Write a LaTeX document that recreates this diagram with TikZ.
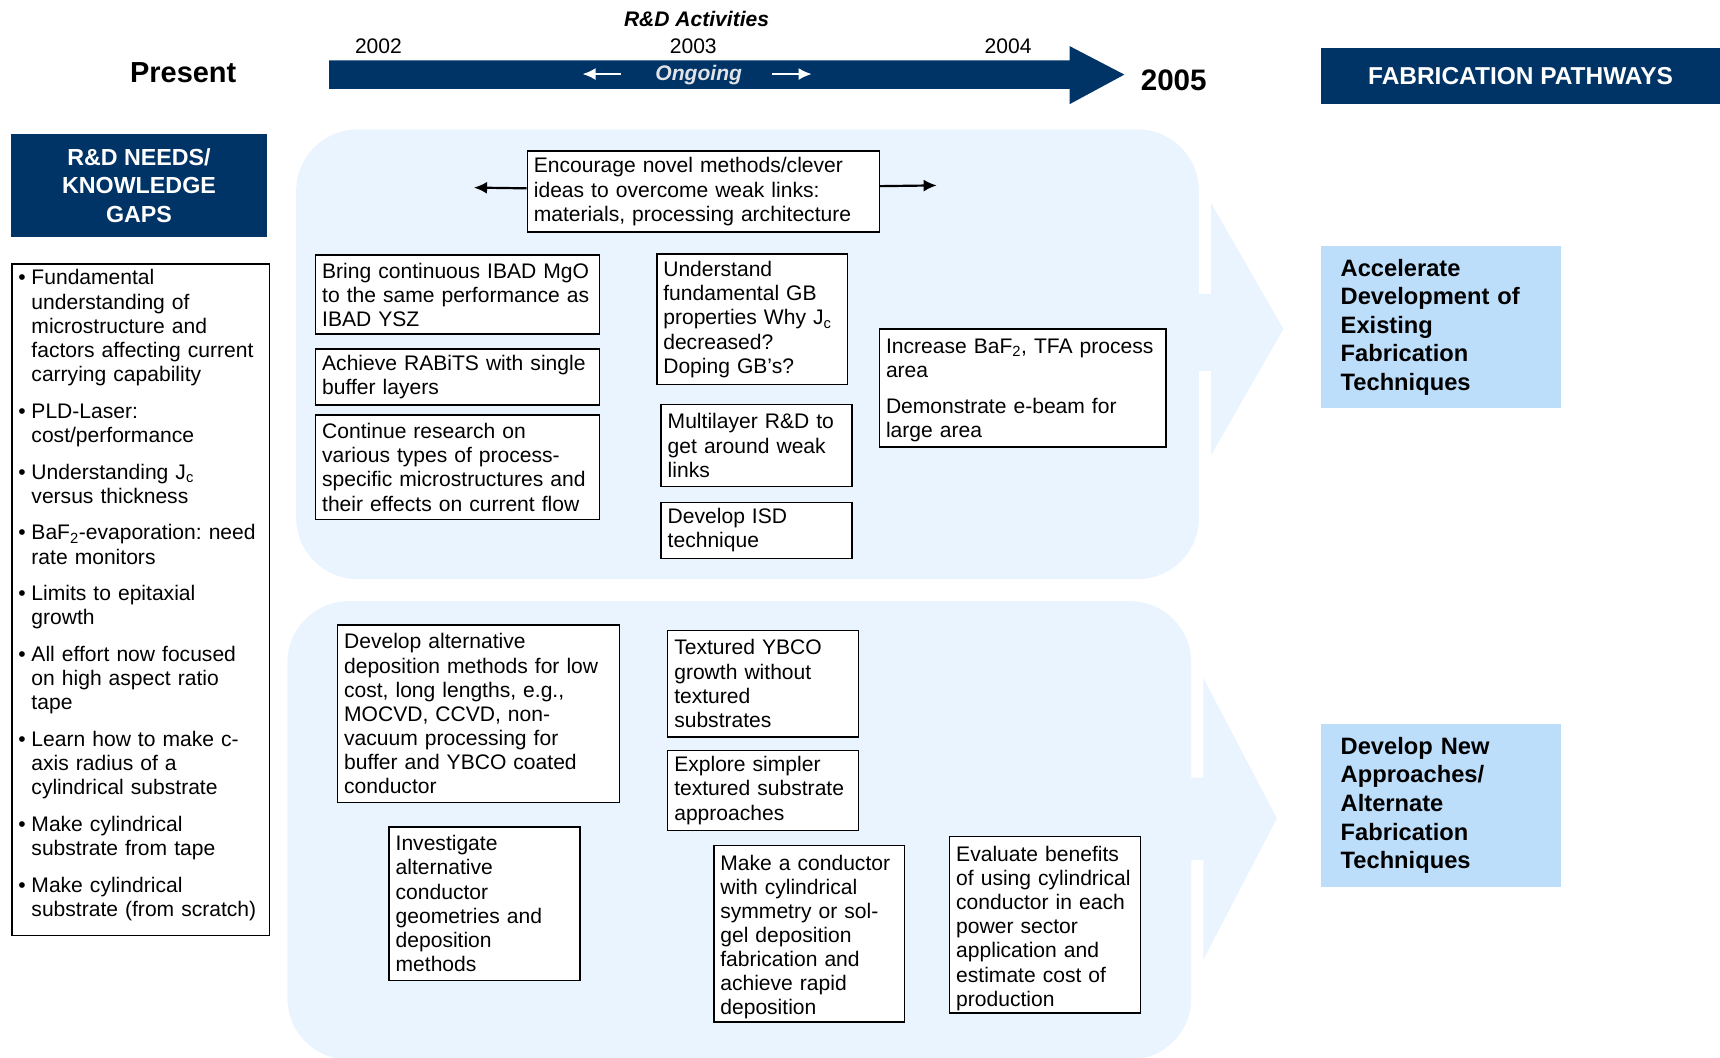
\documentclass[tikz,border=0pt]{standalone}
\usepackage{fontspec}
\setmainfont{Liberation Sans}
\usepackage{tikz}
\usetikzlibrary{positioning,arrows.meta}
\definecolor{navy}{RGB}{0,51,102}
\definecolor{panelblue}{RGB}{234,244,255}
\definecolor{pathblue}{RGB}{189,222,251}
\definecolor{ongoing}{RGB}{224,228,233}
\newcommand{\txt}{\fontsize{19.2}{22}\selectfont}
\newcommand{\bul}{\makebox[12pt][l]{\textbullet}}
\newcommand{\ind}{\hspace*{12pt}}
\hyphenpenalty=10000
\frenchspacing
\tikzstyle{task} = [draw, line width=1.4pt, fill=white, rectangle, anchor=north west, align=left, inner xsep=6pt, inner ysep=2pt, font=\txt]
\tikzstyle{header} = [fill=navy, text=white, rectangle, anchor=north west, align=center, font=\bfseries\fontsize{21.2}{26}\selectfont]
\tikzstyle{pathbox} = [fill=pathblue, rectangle, anchor=north west, align=left, text width=183pt, inner xsep=18pt, minimum height=148pt, font=\bfseries\fontsize{21.6}{26}\selectfont]
\tikzstyle{panel} = [fill=panelblue, rounded corners=56pt]
\tikzstyle{year} = [font=\txt]

\begin{document}
\begin{tikzpicture}[x=1pt, y=-1pt, >={Latex[length=12pt,width=11pt]}, node distance=12pt]
	\useasboundingbox (0,0) rectangle (1568,964);
	% panels and the two pathway arrows behind them
	\fill[panel] (270,118) rectangle (1093,528);
	\fill[panel] (262,548) rectangle (1086,966);
	\fill[panelblue] (1080,268) -- (1104,268) -- (1104,185) -- (1170,300) -- (1104,415) -- (1104,338) -- (1080,338) -- cycle;
	\fill[panelblue] (1073,709) -- (1097,709) -- (1097,618) -- (1164,746) -- (1097,875) -- (1097,784) -- (1073,784) -- cycle;

	% timeline
	\fill[navy] (300,55) -- (975,55) -- (975,42) -- (1025,68) -- (975,95) -- (975,81) -- (300,81) -- cycle;
	\node (act) [font=\bfseries\itshape\txt] at (635,17) {R\&D Activities};
	\node (y02) [year] at (345,42) {2002};
	\node (y03) [year] at (632,42) {2003};
	\node (y04) [year] at (919,42) {2004};
	\node (ongo) [font=\bfseries\itshape\txt, text=ongoing, text depth=0pt] at (637,66) {Ongoing};
	\coordinate (ongoL) at (531,67.5);
	\coordinate (ongoR) at (740,67.5);
	\draw [->, white, line width=2pt] ([xshift=-28pt,yshift=-1.5pt]ongo.west) -- (ongoL);
	\draw [->, white, line width=2pt] ([xshift=24pt,yshift=-1.5pt]ongo.east) -- (ongoR);
	\node (now) [font=\bfseries\fontsize{26.4}{30}\selectfont] at (167,66) {Present};
	\node (end) [font=\bfseries\fontsize{27}{30}\selectfont] at (1070,73) {2005};

	% headers
	\node (needs) [header, minimum width=233pt, minimum height=94pt] at (10,122) {R\&D NEEDS/\\KNOWLEDGE\\GAPS};
	\node (fab) [header, minimum width=364pt, minimum height=51pt, font=\bfseries\fontsize{22.3}{26}\selectfont] at (1204,44) {FABRICATION PATHWAYS};

	% knowledge gaps
	\node (gaps) [task, text width=223pt, minimum height=612pt, text height=6pt] at (10,240) {\bul Fundamental\\
		\ind understanding of\\
		\ind microstructure and\\
		\ind factors affecting current\\
		\ind carrying capability\\[11.5pt]
		\bul PLD-Laser:\\
		\ind cost/performance\\[11.5pt]
		\bul Understanding J\textsubscript{c}\\
		\ind versus thickness\\[11.5pt]
		\bul BaF\textsubscript{2}-evaporation: need\\
		\ind rate monitors\\[11.5pt]
		\bul Limits to epitaxial\\
		\ind growth\\[11.5pt]
		\bul All effort now focused\\
		\ind on high aspect ratio\\
		\ind tape\\[11.5pt]
		\bul Learn how to make c-\\
		\ind axis radius of a\\
		\ind cylindrical substrate\\[11.5pt]
		\bul Make cylindrical\\
		\ind substrate from tape\\[11.5pt]
		\bul Make cylindrical\\
		\ind substrate (from scratch)};

	% upper panel: existing techniques
	\node (enc) [task, text width=309pt, minimum height=74pt] at (480,137) {Encourage novel methods/clever\\ideas to overcome weak links:\\materials, processing architecture};
	\coordinate (encL) at (432,171);
	\coordinate (encR) at (854,169);
	\draw [->, line width=2pt] ([yshift=3pt]enc.west) -- (encL);
	\draw [->, line width=2pt] ([yshift=5pt]enc.east) -- (encR);

	\node (ibad) [task, text width=247pt, minimum height=72pt] at (287,232) {Bring continuous IBAD MgO\\to the same performance as\\IBAD YSZ};
	\node (rabits) [task, text width=247pt, minimum height=51pt, below=12pt of ibad.south west, anchor=north west] {Achieve RABiTS with single\\buffer layers};
	\node (cont) [task, text width=247pt, minimum height=95pt, below=8pt of rabits.south west, anchor=north west] {Continue research on\\various types of process-\\specific microstructures and\\their effects on current flow};
	\node (gb) [task, text width=162pt, minimum height=119pt] at (598,231) {Understand\\fundamental GB\\properties Why J\textsubscript{c}\\decreased?\\Doping GB’s?};
	\node (multi) [task, text width=162pt, minimum height=75pt] at (602,368) {Multilayer R\&D to\\get around weak\\links};
	\node (isd) [task, text width=162pt, minimum height=51pt, below=13pt of multi.south west, anchor=north west] {Develop ISD\\technique};
	\node (baf) [task, text width=249pt, minimum height=108pt, text height=18pt] at (801,299) {Increase BaF\textsubscript{2}, TFA process\\area\\[11pt]Demonstrate e-beam for\\large area};

	% lower panel: new approaches
	\node (alt) [task, text width=245pt, minimum height=162pt] at (307,569) {Develop alternative\\deposition methods for low\\cost, long lengths, e.g.,\\MOCVD, CCVD, non-\\vacuum processing for\\buffer and YBCO coated\\conductor};
	\node (inv) [task, text width=162pt, minimum height=140pt] at (354,753) {Investigate\\alternative\\conductor\\geometries and\\deposition\\methods};
	\node (ybco) [task, text width=162pt, minimum height=97pt] at (608,574) {Textured YBCO\\growth without\\textured\\substrates};
	\node (expl) [task, text width=162pt, minimum height=73pt, below=11pt of ybco.south west, anchor=north west] {Explore simpler\\textured substrate\\approaches};
	\node (cyl) [task, text width=162pt, minimum height=161pt, text height=20pt] at (650,770) {Make a conductor\\with cylindrical\\symmetry or sol-\\gel deposition\\fabrication and\\achieve rapid\\deposition};
	\node (eval) [task, text width=162pt, minimum height=161pt, text height=20pt] at (865,762) {Evaluate benefits\\of using cylindrical\\conductor in each\\power sector\\application and\\estimate cost of\\production};

	% fabrication pathways
	\node (accel) [pathbox] at (1204,224) {Accelerate\\Development of\\Existing\\Fabrication\\Techniques};
	\node (newap) [pathbox] at (1204,660) {Develop New\\Approaches/\\Alternate\\Fabrication\\Techniques};
\end{tikzpicture}
\end{document}
